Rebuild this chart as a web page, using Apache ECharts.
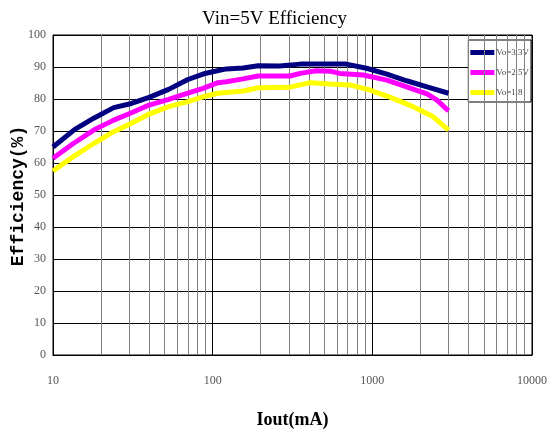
<!DOCTYPE html>
<html>
<head>
<meta charset="utf-8">
<script src="https://cdn.jsdelivr.net/npm/echarts@6/dist/echarts.min.js"></script>
<style>
  html, body { margin: 0; padding: 0; background: #fff; }
  #chart { width: 549px; height: 437px; }
</style>
</head>
<body>
<div id="chart"></div>
<script>
// data
var seriesNames = ['Vo=3.3V', 'Vo=2.5V', 'Vo=1.8'];

var x33 = [10, 13.7, 18, 24, 31, 40, 53, 70, 87, 100, 122, 155, 193, 263, 354, 686, 918, 1233, 1640, 2200, 3000];
var y33 = [65, 70.5, 74, 77.3, 78.6, 80.5, 83, 86.1, 87.8, 88.5, 89.4, 89.7, 90.4, 90.3, 90.9, 90.9, 89.6, 87.8, 85.7, 83.8, 81.8];

var x25 = [10, 13.4, 18, 24, 31, 40, 53, 70, 87, 108, 122, 155, 193, 305, 354, 447, 543, 626, 877, 1233, 1640, 2200, 2530, 3000];
var y25 = [61.5, 66.1, 70.3, 73.4, 75.7, 78.1, 79.9, 81.8, 83.3, 85.1, 85.4, 86.3, 87.2, 87.2, 88, 88.8, 88.7, 88, 87.5, 85.9, 83.8, 81.6, 79.7, 76.3];

var x18 = [10, 13.4, 18, 24, 31, 40, 53, 70, 87, 108, 155, 193, 305, 410, 543, 724, 967, 1300, 1800, 2400, 3000];
var y18 = [57.5, 62, 66.1, 69.8, 72.4, 75.3, 77.6, 79.2, 80.7, 81.8, 82.5, 83.5, 83.7, 85.1, 84.7, 84.4, 82.8, 80.5, 77.6, 74.5, 70.3];

var minorX = [20, 30, 40, 50, 60, 70, 80, 90,
              200, 300, 400, 500, 600, 700, 800, 900,
              2000, 3000, 4000, 5000, 6000, 7000, 8000, 9000];

var colors = ['#000080', '#ff00ff', '#ffff00'];

function pairs(xs, ys) {
  return xs.map(function (v, i) { return [v, ys[i]]; });
}

var chart = echarts.init(document.getElementById('chart'));

var lineSeries = [[x33, y33], [x25, y25], [x18, y18]].map(function (d, i) {
  return {
    name: seriesNames[i],
    type: 'line',
    data: pairs(d[0], d[1]),
    symbol: 'none',
    z: 5,
    lineStyle: { color: colors[i], width: 5 },
    itemStyle: { color: colors[i] }
  };
});

// minor log grid lines
lineSeries.push({
  type: 'line',
  data: [],
  z: 1,
  silent: true,
  markLine: {
    silent: true,
    symbol: ['none', 'none'],
    label: { show: false },
    animation: false,
    lineStyle: { color: '#808080', width: 1, type: 'solid' },
    data: minorX.map(function (v) { return { xAxis: v }; })
  }
});

chart.setOption({
  animation: false,
  backgroundColor: '#fff',
  title: {
    text: 'Vin=5V Efficiency',
    left: 'center',
    top: 5,
    textStyle: { fontFamily: 'Liberation Serif', fontSize: 19, fontWeight: 'normal', color: '#000' }
  },
  // y axis title, placed by hand
  graphic: [{
    type: 'text',
    x: 18,
    y: 196,
    rotation: Math.PI / 2,
    style: {
      text: 'Efficiency(%)',
      fontFamily: 'Liberation Mono',
      fontSize: 18,
      fontWeight: 'bold',
      fill: '#000',
      align: 'center',
      verticalAlign: 'middle'
    }
  }],
  legend: {
    orient: 'vertical',
    right: 18,
    top: 40,
    data: seriesNames,
    icon: 'rect',
    itemWidth: 24,
    itemHeight: 5,
    itemGap: 11,
    padding: [8, 2, 5, 2],
    backgroundColor: '#fff',
    borderColor: '#000',
    borderWidth: 1,
    borderRadius: 0,
    textStyle: { fontFamily: 'Liberation Serif', fontSize: 9, color: '#444', padding: [0, 0, 0, -3] },
    selectedMode: false
  },
  grid: {
    left: 53,
    right: 17,
    top: 35,
    bottom: 82,
    show: true,
    borderColor: '#000',
    borderWidth: 1,
    containLabel: false,
    outerBoundsMode: 'none'
  },
  xAxis: {
    type: 'log',
    logBase: 10,
    min: 10,
    max: 10000,
    name: 'Iout(mA)',
    nameLocation: 'middle',
    nameGap: 56,
    nameTextStyle: { fontFamily: 'Liberation Serif', fontSize: 18, fontWeight: 'bold', color: '#000' },
    axisLine: { lineStyle: { color: '#000' } },
    axisTick: { show: false },
    axisLabel: {
      fontFamily: 'Liberation Serif', fontSize: 12, color: '#555', margin: 20,
      formatter: function (v) { return String(Math.round(v)); }
    },
    splitLine: { show: true, lineStyle: { color: '#000', width: 1 } }
  },
  yAxis: {
    type: 'value',
    min: 0,
    max: 100,
    interval: 10,
    axisLine: { show: true, lineStyle: { color: '#000' } },
    axisTick: { show: false },
    axisLabel: { fontFamily: 'Liberation Serif', fontSize: 12, color: '#555', margin: 7 },
    splitLine: { show: true, lineStyle: { color: '#000', width: 1 } }
  },
  series: lineSeries
});
</script>
</body>
</html>
